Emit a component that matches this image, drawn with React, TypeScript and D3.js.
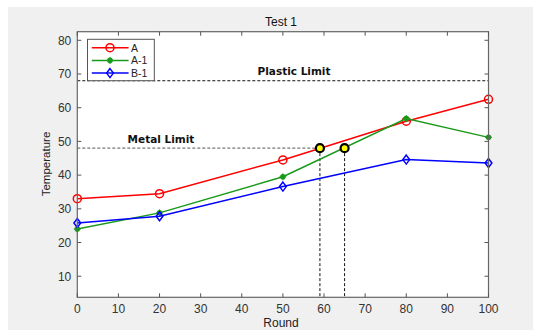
import * as d3 from 'd3';

const rounds = [0, 20, 50, 80, 100];
const seriesA = [33, 34.5, 44.5, 56, 62.5];
const seriesA1 = [24, 28.8, 39.5, 56.8, 51.2];
const seriesB1 = [25.8, 27.8, 36.6, 44.6, 43.6];
const xTicks = [0, 10, 20, 30, 40, 50, 60, 70, 80, 90, 100];
const yTicks = [10, 20, 30, 40, 50, 60, 70, 80];
const plasticLimit = 68;
const metalLimit = 48;
const crossings = [59, 65];

const W = 533;
const H = 330;
const [ml, mr, mt, mb] = [77.3, 44.5, 31.7, 32.7];

const x = d3.scaleLinear().domain([0, 100]).range([ml, W - mr]);
const y = d3.scaleLinear().domain([3.75, 82.55]).range([H - mb, mt]);

const series = [
    { name: 'A', values: seriesA, color: '#ff0000', marker: 'circle' },
    { name: 'A-1', values: seriesA1, color: '#1a9a1a', marker: 'star' },
    { name: 'B-1', values: seriesB1, color: '#0000ff', marker: 'diamond' }
];

const font = '"Liberation Sans", Arial, sans-serif';

function Marker({ kind, cx, cy, color }: { kind: string; cx: number; cy: number; color: string }) {
    if (kind === 'circle') {
        return <circle cx={cx} cy={cy} r={4} fill="none" stroke={color} strokeWidth={1.5} />;
    }
    if (kind === 'diamond') {
        const s = 4.5;
        return (
            <path
                d={`M${cx},${cy - s}L${cx + s * 0.75},${cy}L${cx},${cy + s}L${cx - s * 0.75},${cy}Z`}
                fill="none"
                stroke={color}
                strokeWidth={1.5}
            />
        );
    }
    return (
        <g>
            <circle cx={cx} cy={cy} r={2.8} fill={color} />
            <path d={`M${cx - 3.5},${cy}H${cx + 3.5}M${cx},${cy - 3.5}V${cy + 3.5}`} stroke={color} strokeWidth={1} />
        </g>
    );
}

export default function App() {
    const line = d3
        .line<number>()
        .x((_d, i) => x(rounds[i]))
        .y((d) => y(d));

    const [x0, x1] = x.range();
    const [y0, y1] = y.range();

    return (
        <svg width={W} height={H} style={{ position: 'absolute', left: 0, top: 0 }} fontFamily={font}>
            <rect x={8} y={7} width={W - 8} height={H - 7} fill="#f0f0f0" />
            <rect x={x0} y={y1} width={x1 - x0} height={y0 - y1} fill="#ffffff" />

            {/* limit lines */}
            <line x1={x(0)} x2={x(100)} y1={y(plasticLimit)} y2={y(plasticLimit)} stroke="#111" strokeDasharray="3,2" strokeWidth={1} />
            <line x1={x(0)} x2={x(crossings[0])} y1={y(metalLimit)} y2={y(metalLimit)} stroke="#777" strokeDasharray="3,2" strokeWidth={1.2} />
            {crossings.map((c) => (
                <line key={c} x1={x(c)} x2={x(c)} y1={y(metalLimit)} y2={y0} stroke="#111" strokeDasharray="3,2" strokeWidth={1} />
            ))}
            <text x={294} y={75} textAnchor="middle" fontSize={10.5} fontWeight="bold" fill="#111" fontFamily='"DejaVu Sans", sans-serif'>
                Plastic Limit
            </text>
            <text x={161} y={142.5} textAnchor="middle" fontSize={10.5} fontWeight="bold" fill="#111" fontFamily='"DejaVu Sans", sans-serif'>
                Metal Limit
            </text>

            {/* series */}
            {series.map((s) => (
                <g key={s.name}>
                    <path d={line(s.values) ?? ''} fill="none" stroke={s.color} strokeWidth={1.5} />
                    {s.values.map((v, i) => (
                        <Marker key={i} kind={s.marker} cx={x(rounds[i])} cy={y(v)} color={s.color} />
                    ))}
                </g>
            ))}

            {crossings.map((c) => (
                <circle key={c} cx={x(c)} cy={y(metalLimit)} r={4} fill="#ffff00" stroke="#000" strokeWidth={2.2} />
            ))}

            {/* axes box and ticks */}
            <rect x={x0} y={y1} width={x1 - x0} height={y0 - y1} fill="none" stroke="#666" strokeWidth={1.2} />
            {xTicks.map((t) => (
                <g key={t}>
                    <line x1={x(t)} x2={x(t)} y1={y0} y2={y0 - 4} stroke="#555" />
                    <line x1={x(t)} x2={x(t)} y1={y1} y2={y1 + 4} stroke="#555" />
                    <text x={x(t)} y={y0 + 15.5} textAnchor="middle" fontSize={12} fill="#333">
                        {t}
                    </text>
                </g>
            ))}
            {yTicks.map((t) => (
                <g key={t}>
                    <line x1={x0} x2={x0 + 4} y1={y(t)} y2={y(t)} stroke="#555" />
                    <line x1={x1} x2={x1 - 4} y1={y(t)} y2={y(t)} stroke="#555" />
                    <text x={x0 - 6} y={y(t) + 4.3} textAnchor="end" fontSize={12} fill="#333">
                        {t}
                    </text>
                </g>
            ))}

            <text x={281} y={26} textAnchor="middle" fontSize={12} fill="#111">
                Test 1
            </text>
            <text x={281} y={327} textAnchor="middle" fontSize={12} fill="#222">
                Round
            </text>
            <text transform="translate(50,164) rotate(-90)" textAnchor="middle" fontSize={11.5} fill="#222">
                Temperature
            </text>

            {/* legend */}
            <rect x={87.5} y={39.3} width={66.8} height={41.4} fill="#fff" stroke="#555" strokeWidth={1} />
            {series.map((s, i) => {
                const ly = 47.7 + i * 12.7;
                return (
                    <g key={s.name}>
                        <line x1={91.8} x2={128.6} y1={ly} y2={ly} stroke={s.color} strokeWidth={1.5} />
                        <Marker kind={s.marker} cx={110} cy={ly} color={s.color} />
                        <text x={131} y={ly + 4} fontSize={10.5} fill="#222">
                            {s.name}
                        </text>
                    </g>
                );
            })}
        </svg>
    );
}
